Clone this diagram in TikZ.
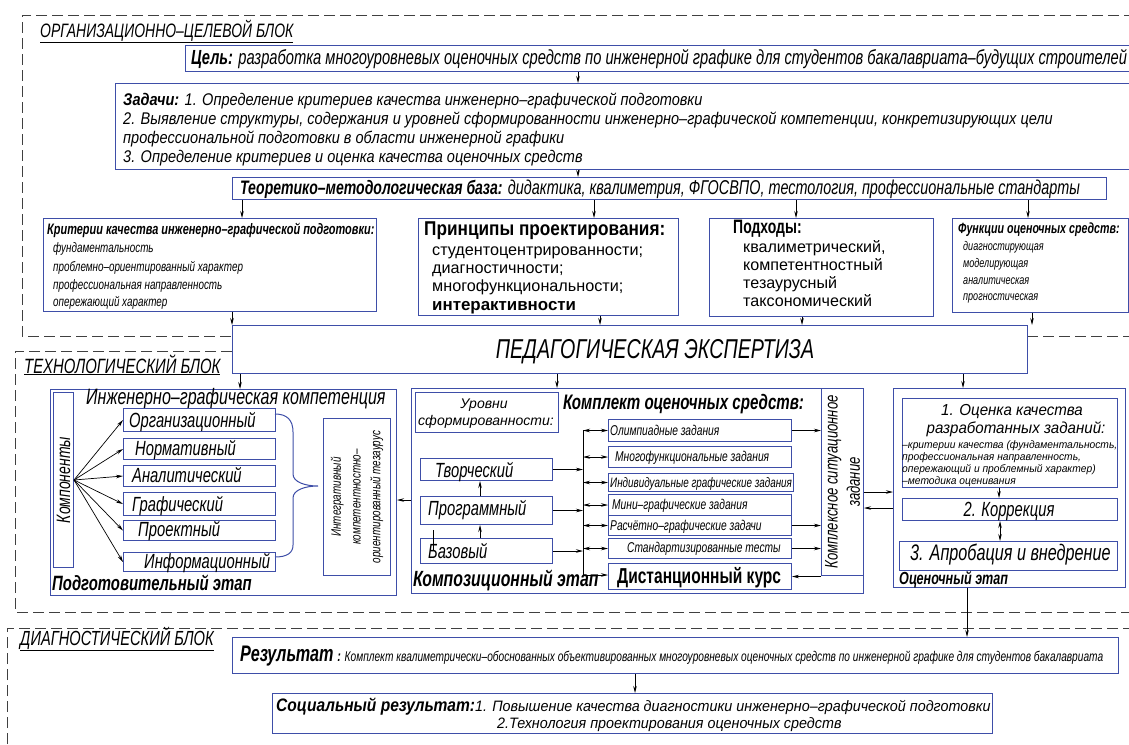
\documentclass[tikz,border=0pt]{standalone}
\usepackage{fontspec}
\setmainfont{Liberation Sans}[FakeStretch=0.72]
\newfontfamily\gostm{Liberation Sans}[FakeStretch=0.86]
\newfontfamily\gostw{Liberation Sans}[FakeStretch=0.95]
\newfontfamily\gostf{Liberation Sans}
\usetikzlibrary{arrows.meta}
\definecolor{boxblue}{RGB}{62,78,168}
\newcommand{\fsz}[1]{\fontsize{#1}{#1}\selectfont}

\begin{document}
\begin{tikzpicture}[x=1pt,y=-1pt,
  box/.style={draw=boxblue, line width=1pt, inner sep=0pt, anchor=north west},
  txt/.style={inner sep=0pt, anchor=base west},
  arr/.style={-{Stealth[length=7pt,width=3.5pt]}, line width=0.7pt},
  arrs/.style={{Stealth[length=7pt,width=3.5pt]}-{Stealth[length=7pt,width=3.5pt]}, line width=0.7pt},
  blockline/.style={line width=0.8pt, black!75, dash pattern=on 11pt off 5pt}]

\useasboundingbox (0,0) rectangle (1129,744);

% block frames
\draw[blockline] (1135,15) -- (22,15) -- (22,336) -- (232,336);
\draw[blockline] (1027,336) -- (1135,336);
\draw[blockline] (232,351) -- (15,351) -- (15,612) -- (1135,612);
\draw[blockline] (7,744) -- (7,628) -- (1135,628);
\node[txt] (orgtitle) at (40,37) {\fsz{19.4}\itshape\underline{ОРГАНИЗАЦИОННО–ЦЕЛЕВОЙ БЛОК}};
\node[txt] (techtitle) at (24,373) {\fsz{20.7}\itshape\underline{ТЕХНОЛОГИЧЕСКИЙ БЛОК}};
\node[txt] (diagtitle) at (20,645) {\fsz{20.4}\itshape\underline{ДИАГНОСТИЧЕСКИЙ БЛОК}};

% organisational block
\node[box, minimum width=960, minimum height=26] (goal) at (185,45) {};
\node[txt] (goaltext) at (191,64) {\fsz{20.4}\itshape\bfseries Цель:\mdseries{} разработка многоуровневых оценочных средств по инженерной графике для студентов бакалавриата–будущих строителей};
\node[box, minimum width=1020, minimum height=86] (tasks) at (115,83) {};
\node[txt] (task1) at (123,105) {\gostm\fsz{16.9}\itshape\bfseries Задачи:\mdseries{} 1. Определение критериев качества инженерно–графической подготовки};
\node[txt] (task2) at (123,124) {\gostm\fsz{16.9}\itshape 2. Выявление структуры, содержания и уровней сформированности инженерно–графической компетенции, конкретизирующих цели};
\node[txt] (task3) at (123,143) {\gostm\fsz{16.9}\itshape профессиональной подготовки в области инженерной графики};
\node[txt] (task4) at (123,162) {\gostm\fsz{16.9}\itshape 3. Определение критериев и оценка качества оценочных средств};
\node[box, minimum width=874, minimum height=22] (theory) at (232,177) {};
\node[txt] (theorytext) at (240,194) {\fsz{19.5}\itshape\bfseries Теоретико–методологическая база:\mdseries\fsz{20}{} дидактика, квалиметрия, ФГОСВПО, тестология, профессиональные стандарты};
\draw[arr] (578,0 |- goal.south) -- (578,0 |- tasks.north);
\draw[arr] (578,0 |- tasks.south) -- (578,0 |- theory.north);

\node[box, minimum width=333, minimum height=93] (crit) at (43,218) {};
\node[txt] (crittitle) at (47,234) {\fsz{15.2}\itshape\bfseries Критерии качества инженерно–графической подготовки:};
\node[txt] (crit1) at (53,252) {\fsz{13.7}\itshape фундаментальность};
\node[txt] (crit2) at (53,271) {\fsz{13.7}\itshape проблемно–ориентированный характер};
\node[txt] (crit3) at (53,289) {\fsz{13.7}\itshape профессиональная направленность};
\node[txt] (crit4) at (53,306) {\fsz{13.7}\itshape опережающий характер};

\node[box, minimum width=260, minimum height=97] (princ) at (418,218) {};
\node[txt] (princtitle) at (424,235) {\gostm\fsz{20}\bfseries Принципы проектирования:};
\node[txt] (princ1) at (432,255) {\gostf\fsz{16.2}студентоцентрированности;};
\node[txt] (princ2) at (432,273) {\gostf\fsz{16.2}диагностичности;};
\node[txt] (princ3) at (432,291) {\gostf\fsz{16.2}многофункциональности;};
\node[txt] (princ4) at (432,310) {\gostf\fsz{16.9}\bfseries интерактивности};

\node[box, minimum width=224, minimum height=98] (appr) at (709,218) {};
\node[txt] (apprtitle) at (733,233) {\fsz{19.4}\bfseries Подходы:};
\node[txt] (appr1) at (743,252) {\gostf\fsz{16.1}квалиметрический,};
\node[txt] (appr2) at (743,270) {\gostf\fsz{16.1}компетентностный};
\node[txt] (appr3) at (743,288) {\gostf\fsz{16.1}тезаурусный};
\node[txt] (appr4) at (743,306) {\gostf\fsz{16.1}таксономический};

\node[box, minimum width=176, minimum height=94] (func) at (952,218) {};
\node[txt] (functitle) at (958,233) {\fsz{14.8}\itshape\bfseries Функции оценочных средств:};
\node[txt] (func1) at (963,250) {\fsz{12.6}\itshape диагностирующая};
\node[txt] (func2) at (963,267) {\fsz{12.6}\itshape моделирующая};
\node[txt] (func3) at (963,284) {\fsz{12.6}\itshape аналитическая};
\node[txt] (func4) at (963,300) {\fsz{12.6}\itshape прогностическая};

\draw[arr] (242,0 |- theory.south) -- (242,0 |- crit.north);
\draw[arr] (594,0 |- theory.south) -- (594,0 |- princ.north);
\draw[arr] (796,0 |- theory.south) -- (796,0 |- appr.north);
\draw[arr] (1028,0 |- theory.south) -- (1028,0 |- func.north);

\node[box, minimum width=795, minimum height=48] (expert) at (232,325) {};
\node[inner sep=0pt] (experttext) at (655,352) {\fsz{27.3}\itshape ПЕДАГОГИЧЕСКАЯ ЭКСПЕРТИЗА};
\draw[arr] (232,0 |- crit.south) -- (232,0 |- expert.north);
\draw[arr] (600,0 |- princ.south) -- (600,0 |- expert.north);
\draw[arr] (802,0 |- appr.south) -- (802,0 |- expert.north);
\draw[arr] (1032,0 |- func.south) -- (1032,0 |- expert.north);

% technological block: preparation stage
\node[box, minimum width=346, minimum height=206] (prep) at (50,389) {};
\node[txt] (preptitle) at (86,404) {\fsz{22.3}\itshape Инженерно–графическая компетенция};
\node[txt] (preplabel) at (52,590) {\fsz{20.7}\itshape\bfseries Подготовительный этап};
\node[box, minimum width=20, minimum height=175] (komp) at (53,392) {};
\node[rotate=90, inner sep=0pt] (komptext) at (komp.center) {\fsz{19.4}\itshape Компоненты};
\node[box, minimum width=152, minimum height=23] (orgc) at (123,408) {};
\node[box, minimum width=152, minimum height=21] (norm) at (123,438) {};
\node[box, minimum width=152, minimum height=21] (anal) at (123,465) {};
\node[box, minimum width=152, minimum height=23] (graf) at (123,492) {};
\node[box, minimum width=152, minimum height=20] (proekt) at (123,520) {};
\node[box, minimum width=152, minimum height=19] (inform) at (123,552) {};
\node[txt] (orgctext) at (129,427) {\fsz{20.5}\itshape Организационный};
\node[txt] (normtext) at (135,455) {\fsz{20.5}\itshape Нормативный};
\node[txt] (analtext) at (132,482) {\fsz{20.5}\itshape Аналитический};
\node[txt] (graftext) at (132,511) {\fsz{20.5}\itshape Графический};
\node[txt] (proekttext) at (138,536) {\fsz{20.5}\itshape Проектный};
\node[txt] (informtext) at (144,568) {\fsz{20.5}\itshape Информационный};
\foreach \c in {orgc,norm,anal,graf,proekt,inform}
  \draw[arr] (komp.east) -- (\c.west);
\draw[boxblue, line width=1pt] (275,414) .. controls (287,414) and (293,420) .. (293,432) -- (293,474)
  .. controls (293,482) and (305,486) .. (318,486) .. controls (305,486) and (293,490) .. (293,498)
  -- (293,545) .. controls (293,553) and (287,557) .. (275,557);
\node[box, minimum width=67, minimum height=157] (integ) at (323,418) {};
\node[rotate=90, align=center, inner sep=0pt, font=\fsz{13.7}\itshape] (integtext) at (integ.center) {Интегративный\\[6pt] компетентностно–\\[6pt] ориентированный тезаурус};

% technological block: composition stage
\node[box, minimum width=452, minimum height=205] (comp) at (411,388) {};
\node[box, minimum width=143, minimum height=40] (urov) at (415,392) {};
\node[inner sep=0pt, anchor=base] (urov1) at (484,408) {\gostf\fsz{14}\itshape Уровни};
\node[inner sep=0pt, anchor=base] (urov2) at (486,425) {\gostf\fsz{14}\itshape сформированности:};
\node[txt] (komplekt) at (563,409) {\fsz{21}\itshape\bfseries Комплект оценочных средств:};
\node[box, minimum width=132, minimum height=22] (tvor) at (420,458) {};
\node[box, minimum width=132, minimum height=28] (prog) at (420,496) {};
\node[box, minimum width=132, minimum height=25] (baz) at (420,538) {};
\node[txt] (tvortext) at (435,477) {\fsz{20.5}\itshape Творческий};
\node[txt] (progtext) at (428,515) {\fsz{20.5}\itshape Программный};
\node[txt] (baztext) at (428,558) {\fsz{20.5}\itshape Базовый};
\draw[arr] (480,0 |- prog.north) -- (480,0 |- tvor.south);
\draw[arr] (480,0 |- baz.north) -- (480,0 |- prog.south);
\draw[line width=0.7pt] (433,530) -- (433,550);
\coordinate (bustop) at (583,430);
\coordinate (busbot) at (583,575);
\draw[line width=0.7pt] (bustop) -- (busbot);
\draw[arr] (tvor.east) -- (tvor.east -| bustop);
\draw[arr] (prog.east) -- (prog.east -| bustop);
\draw[arr] (baz.east) -- (baz.east -| bustop);

\node[box, minimum width=183, minimum height=22] (olymp) at (608,419) {};
\node[box, minimum width=183, minimum height=21] (multi) at (608,446) {};
\node[box, minimum width=185, minimum height=18] (indiv) at (608,473) {};
\node[box, minimum width=183, minimum height=21] (mini) at (608,494) {};
\node[box, minimum width=183, minimum height=20] (rasch) at (608,515) {};
\node[box, minimum width=183, minimum height=20] (stand) at (608,538) {};
\node[box, minimum width=183, minimum height=26] (dist) at (608,563) {};
\node[txt] (olymptext) at (610,435) {\fsz{14.2}\itshape Олимпиадные задания};
\node[txt] (multitext) at (615,461) {\fsz{14.2}\itshape Многофункциональные задания};
\node[txt] (indivtext) at (610,487) {\fsz{13.7}\itshape Индивидуальные графические задания};
\node[txt] (minitext) at (612,509) {\fsz{14.2}\itshape Мини–графические задания};
\node[txt] (raschtext) at (610,530) {\fsz{14.2}\itshape Расчётно–графические задачи};
\node[txt] (standtext) at (627,552) {\fsz{14.2}\itshape Стандартизированные тесты};
\node[txt] (disttext) at (617,583) {\fsz{21.6}\bfseries Дистанционный курс};
\foreach \t in {olymp,multi,indiv,mini,rasch,stand}
  \draw[arrs] (bustop |- \t.west) -- (\t.west);
\draw[arr] (busbot) -- (busbot -| dist.west);
\node[txt] (complabel) at (413,586) {\fsz{22}\itshape\bfseries Композиционный этап};

\node[box, minimum width=42, minimum height=187] (complex) at (821,388) {};
\node[rotate=90, align=center, inner sep=0pt, font=\fsz{18.2}\itshape] (complextext) at (complex.center) {Комплексное ситуационное\\[4pt] задание};
\draw[arr] (olymp.east) -- (olymp.east -| complex.west);
\draw[arr] (rasch.east) -- (rasch.east -| complex.west);
\draw[arr] (stand.east) -- (stand.east -| complex.west);
\draw[arr] (dist.east -| complex.west) -- (dist.east);

% technological block: evaluation stage
\node[box, minimum width=232, minimum height=199] (evalst) at (893,388) {};
\node[box, minimum width=215, minimum height=89] (eval1) at (902,398) {};
\node[box, minimum width=215, minimum height=22] (eval2) at (902,498) {};
\node[box, minimum width=218, minimum height=29] (eval3) at (899,541) {};
\node[inner sep=0pt, anchor=base] (eval1a) at (1012,415) {\gostw\fsz{15.9}\itshape 1. Оценка качества};
\node[inner sep=0pt, anchor=base] (eval1b) at (1016,433) {\gostw\fsz{15.9}\itshape разработанных заданий:};
\node[txt] (eval1c) at (902,448) {\gostw\fsz{10.8}\itshape –критерии качества (фундаментальность,};
\node[txt] (eval1d) at (902,460) {\gostw\fsz{10.8}\itshape профессиональная направленность,};
\node[txt] (eval1e) at (902,472) {\gostw\fsz{10.8}\itshape опережающий и проблемный характер)};
\node[txt] (eval1f) at (902,484) {\gostw\fsz{10.8}\itshape –методика оценивания};
\node[inner sep=0pt, anchor=base] (eval2text) at (1009,516) {\fsz{20.5}\itshape 2. Коррекция};
\node[txt] (eval3text) at (910,560) {\fsz{22.5}\itshape 3. Апробация и внедрение};
\node[txt] (evallabel) at (899,584) {\fsz{17.5}\itshape\bfseries Оценочный этап};
\draw[arr] (999,0 |- eval1.south) -- (999,0 |- eval2.north);
\draw[arrs] (1000,0 |- eval2.south) -- (1000,0 |- eval3.north);

\draw[arr] (240,0 |- expert.south) -- (240,0 |- prep.north);
\draw[arr] (557,0 |- expert.south) -- (557,0 |- comp.north);
\draw[arr] (963,0 |- expert.south) -- (963,0 |- evalst.north);
\draw[arr] (comp.west |- 0,500) -- (prep.east |- 0,500);
\draw[arr] (comp.east |- 0,492) -- (evalst.west |- 0,492);
\draw[arr] (evalst.west |- 0,508) -- (comp.east |- 0,508);

% diagnostic block
\node[box, minimum width=886, minimum height=36] (result) at (232,637) {};
\node[txt] (resulttext) at (240,661) {\fsz{22.5}\itshape\bfseries Результат\,{\fsz{15}:}\mdseries\fsz{14.1}{} Комплект квалиметрически–обоснованных объективированных многоуровневых оценочных средств по инженерной графике для студентов бакалавриата};
\node[box, minimum width=720, minimum height=40] (social) at (272,693) {};
\node[txt] (social1) at (276,711) {\gostm\fsz{18.1}\itshape\bfseries Социальный результат:\gostw\fsz{15.1}\itshape\mdseries{}1. Повышение качества диагностики инженерно–графической подготовки};
\node[txt] (social2) at (497,728) {\gostw\fsz{15.1}\itshape 2.Технология проектирования оценочных средств};
\draw[arr] (967,0 |- evalst.south) -- (967,0 |- result.north);
\draw[arr] (635,0 |- result.south) -- (635,0 |- social.north);
\end{tikzpicture}
\end{document}
